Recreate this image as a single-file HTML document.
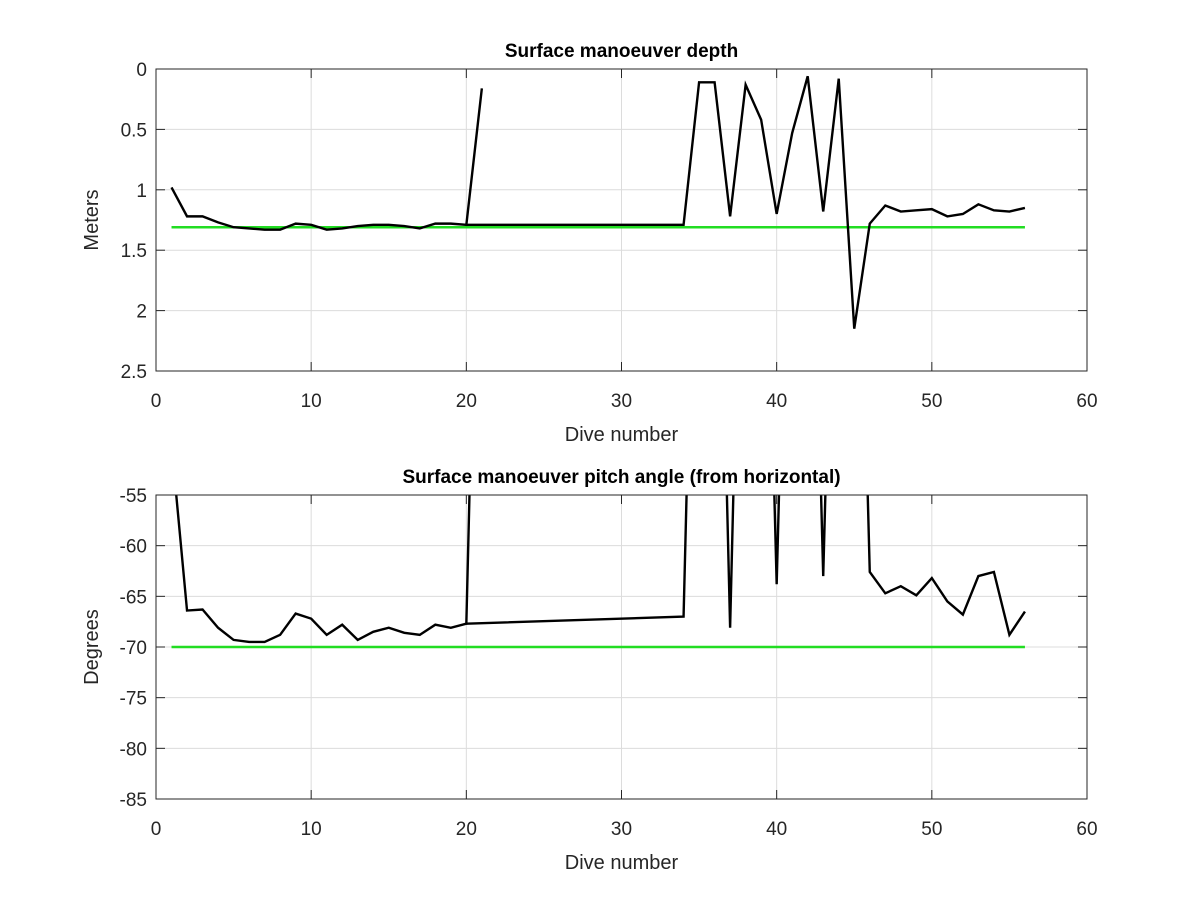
<!DOCTYPE html>
<html><head><meta charset="utf-8"><style>
body{margin:0;background:#fff;}
svg text{font-family:"Liberation Sans",Arial,sans-serif;fill:#262626;}
</style></head><body>
<svg id="fig" width="1200" height="900" viewBox="0 0 1200 900" xmlns="http://www.w3.org/2000/svg">
<rect width="1200" height="900" fill="#fff"/>
<defs>
<clipPath id="c1"><rect x="156" y="69" width="931" height="302"/></clipPath>
<clipPath id="c2"><rect x="156" y="495" width="931" height="304"/></clipPath>
</defs>
<g id="p1"></g>
<g id="p2"></g>
</svg>
<script>
const xTicks=[0,10,20,30,40,50,60];
const depthTicks=[0,0.5,1,1.5,2,2.5];
const pitchTicks=[-55,-60,-65,-70,-75,-80,-85];
const diveSeg1=[1,2,3,4,5,6,7,8,9,10,11,12,13,14,15,16,17,18,19,20,21];
const diveSeg2=[20,34,35,36,37,38,39,40,41,42,43,44,45,46,47,48,49,50,51,52,53,54,55,56];
const depthSeg1=[0.98,1.22,1.22,1.27,1.31,1.32,1.33,1.33,1.28,1.29,1.33,1.32,1.30,1.29,1.29,1.30,1.32,1.28,1.28,1.29,0.16];
const depthSeg2=[1.29,1.29,0.11,0.11,1.22,0.13,0.42,1.2,0.53,0.06,1.18,0.08,2.15,1.28,1.13,1.18,1.17,1.16,1.22,1.2,1.12,1.17,1.18,1.15];
const pitchSeg1=[-50,-66.4,-66.3,-68.1,-69.3,-69.5,-69.5,-68.8,-66.7,-67.2,-68.8,-67.8,-69.3,-68.5,-68.1,-68.6,-68.8,-67.8,-68.1,-67.7,-5];
const pitchSeg2=[-67.7,-67.0,-5,-5,-68.1,-5,-5,-63.8,-5,-5,-63.0,-5,-5,-62.6,-64.7,-64.0,-64.9,-63.2,-65.5,-66.8,-63.0,-62.6,-68.8,-66.5];
const depthTarget=1.31, pitchTarget=-70;
const NS="http://www.w3.org/2000/svg";
function mk(tag,attrs,parent,txt){const e=document.createElementNS(NS,tag);for(const k in attrs)e.setAttribute(k,attrs[k]);if(txt!==undefined)e.textContent=txt;parent.appendChild(e);return e;}
function panel(g,top,bot,yMin,yMax,yTicks,seg1,seg2,target,title,ylab,clip,fmt){
  const L=156,R=1087;
  const sx=v=>L+(v-0)/60*(R-L);
  const sy=v=>top+(v-yMin)/(yMax-yMin)*(bot-top);
  xTicks.forEach(t=>{const l=mk('line',{x1:sx(t),x2:sx(t),y1:top,y2:bot,stroke:'#dcdcdc','stroke-width':1},g);
    
    
    mk('line',{x1:sx(t),x2:sx(t),y1:bot,y2:bot-9,stroke:'#262626','stroke-width':1},g);
    mk('line',{x1:sx(t),x2:sx(t),y1:top,y2:top+9,stroke:'#262626','stroke-width':1},g);
    const tx=mk('text',{x:sx(t),y:bot+36,'text-anchor':'middle','font-size':19},g,String(t));
    
    });
  yTicks.forEach(t=>{const l=mk('line',{x1:L,x2:R,y1:sy(t),y2:sy(t),stroke:'#dcdcdc','stroke-width':1},g);
    
    
    mk('line',{x1:L,x2:L+9,y1:sy(t),y2:sy(t),stroke:'#262626','stroke-width':1},g);
    mk('line',{x1:R-9,x2:R,y1:sy(t),y2:sy(t),stroke:'#262626','stroke-width':1},g);
    const tx=mk('text',{x:L-9,y:sy(t)+7,'text-anchor':'end','font-size':19},g,fmt(t));
    
    });
  const gl=mk('line',{x1:sx(1),x2:sx(56),y1:sy(target),y2:sy(target),stroke:'#22dd22','stroke-width':2.5,'clip-path':clip},g);
  
  
  [[diveSeg1,seg1],[diveSeg2,seg2]].forEach(([xs,ys])=>{
    const p=mk('polyline',{points:xs.map((x,i)=>sx(x)+','+sy(ys[i])).join(' '),fill:'none',stroke:'#000','stroke-width':2.4,'stroke-linejoin':'miter','clip-path':clip},g);
    
    });
  const b=mk('rect',{x:L,y:top,width:R-L,height:bot-top,fill:'none',stroke:'#262626','stroke-width':1},g);
  
  
  const t=mk('text',{x:(L+R)/2,y:top-12,'text-anchor':'middle','font-size':19,'font-weight':'bold',style:'fill:#000'},g,title);
  
  
  const xl=mk('text',{x:(L+R)/2,y:bot+70,'text-anchor':'middle','font-size':20},g,'Dive number');
  
  
  const cy=(top+bot)/2;
  const yl=mk('text',{x:98,y:cy,'text-anchor':'middle','font-size':20,transform:'rotate(-90 98 '+cy+')'},g,ylab);
  
  
}
panel(document.getElementById('p1'),69,371,0,2.5,depthTicks,depthSeg1,depthSeg2,depthTarget,'Surface manoeuver depth','Meters','url(#c1)',t=>String(t));
panel(document.getElementById('p2'),495,799,-55,-85,pitchTicks,pitchSeg1,pitchSeg2,pitchTarget,'Surface manoeuver pitch angle (from horizontal)','Degrees','url(#c2)',t=>String(t));
</script>
</body></html>
